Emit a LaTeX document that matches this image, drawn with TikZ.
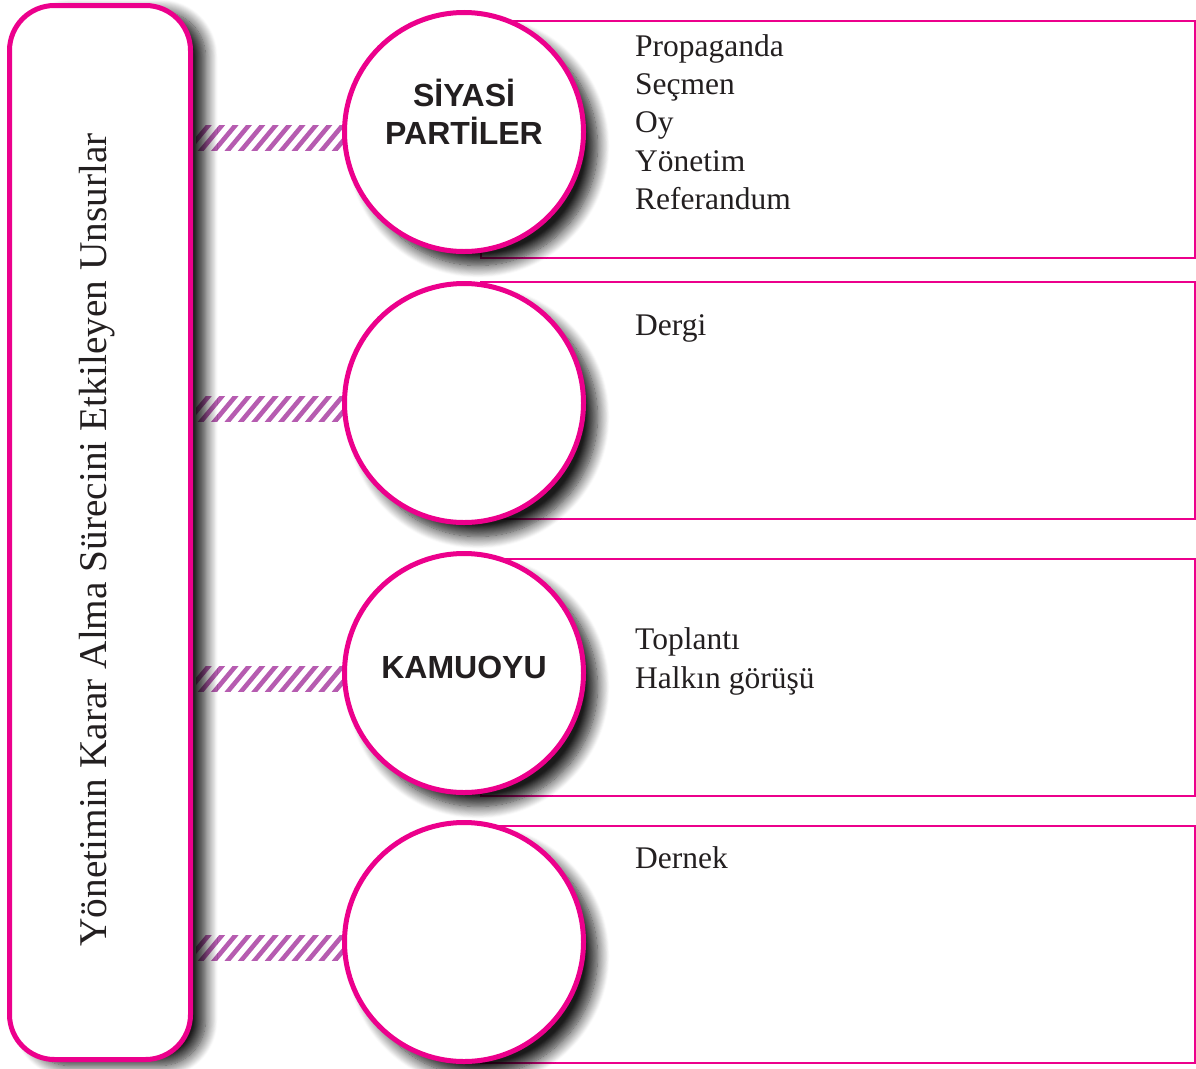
\documentclass[tikz,border=0pt]{standalone}
\usepackage{fontspec}
\newfontfamily\headfont{Liberation Sans}
\setmainfont{Liberation Serif}
\usetikzlibrary{shadows.blur,calc}
\pgfdeclarelayer{background}
\pgfsetlayers{background,main}
\definecolor{mag}{HTML}{EC008C}
\definecolor{hatchc}{RGB}{182,92,176}
\definecolor{ink}{HTML}{231F20}
\tikzset{
  infobox/.style={rectangle, draw=mag, line width=2pt, minimum width=714pt, minimum height=237pt, inner sep=0pt, anchor=north west},
  leftbox/.style={rectangle, draw=mag, fill=white, line width=5pt, rounded corners=45pt, minimum width=181pt, minimum height=1054pt, inner sep=0pt,
    blur shadow={shadow xshift=15pt, shadow yshift=-6pt, shadow blur radius=12pt, shadow blur steps=14, shadow opacity=90}},
  circ/.style={circle, draw=mag, fill=white, line width=5pt, minimum size=239pt, inner sep=0pt,
    blur shadow={shadow xshift=14pt, shadow yshift=-14pt, shadow blur radius=12pt, shadow blur steps=14, shadow opacity=90}},
  hatchline/.style={draw=hatchc, line width=4.6pt},
  circtext/.style={font=\headfont\bfseries\fontsize{32}{38}\selectfont, text=ink, align=center, inner sep=0pt},
  itemtext/.style={font=\fontsize{31.5}{34}\selectfont, text=ink, inner sep=0pt, anchor=base west},
  sidetext/.style={font=\fontsize{39.3}{40}\selectfont, text=ink, rotate=90, inner sep=0pt}
}
\begin{document}
\begin{tikzpicture}[x=1pt,y=-1pt]
\useasboundingbox (0,0) rectangle (1196,1068);
% left box
\node[leftbox] (L) at (100,532.5) {};
% circles
\foreach \n/\y in {1/132,2/403,3/673,4/942}
  \node[circ] (c\n) at (464,\y) {};
\begin{pgfonlayer}{background}
% info boxes
\foreach \n/\t in {1/20,2/281,3/558,4/825}
  \node[infobox] (b\n) at (480,\t) {};
% hatched connectors
\foreach \n in {1,2,3,4}{
  \begin{scope}
    \clip ($(L.east |- c\n.center)+(3,-7)$) rectangle ($(c\n.west)+(4,18)$);
    \foreach \k in {0,...,12}
      \draw[hatchline] ($(L.east |- c\n.center)+(\k*13.4-10,24)$) -- ++(30,-36);
  \end{scope}
}
\end{pgfonlayer}
% side text
\node[sidetext] (T) at (97,540) {Yönetimin Karar Alma Sürecini Etkileyen Unsurlar};
% circle labels
\node[circtext] (s1) at (464,112) {SİYASİ\\PARTİLER};
\node[circtext, anchor=base] (s3) at (464,678) {KAMUOYU};
% items
\node[itemtext] (p1) at (635,56) {Propaganda};
\node[itemtext] (p2) at (635,94) {Seçmen};
\node[itemtext] (p3) at (635,132) {Oy};
\node[itemtext] (p4) at (635,171) {Yönetim};
\node[itemtext] (p5) at (635,209) {Referandum};
\node[itemtext] (d1) at (635,335) {Dergi};
\node[itemtext] (k1) at (635,649) {Toplantı};
\node[itemtext] (k2) at (635,688) {Halkın görüşü};
\node[itemtext] (e1) at (635,868) {Dernek};
\end{tikzpicture}
\end{document}
